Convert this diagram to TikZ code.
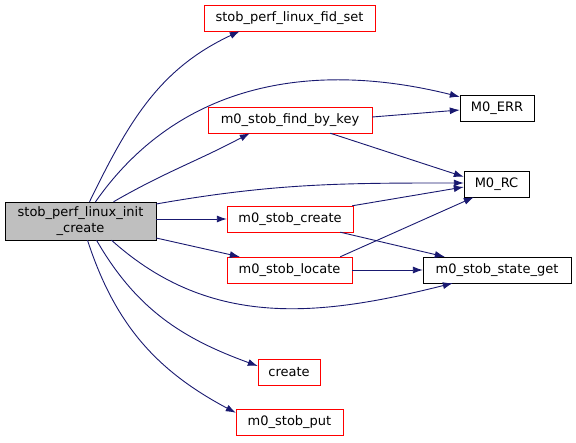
\documentclass[tikz,border=0pt]{standalone}
\usepackage{fontspec}
\setmainfont{DejaVu Sans}
\usetikzlibrary{arrows.meta}
\definecolor{CGNavy}{HTML}{191970}
\definecolor{CGRed}{HTML}{FF0000}
\definecolor{CGGray}{HTML}{BFBFBF}
\tikzset{
  >={Latex[length=10pt,width=7pt]},
  cgbox/.style={draw=black, fill=white, align=center, minimum height=26pt,
    inner sep=2pt, font=\fontsize{13}{15.5}\selectfont},
  cgred/.style={cgbox, draw=CGRed},
  cgmain/.style={cgbox, fill=CGGray, minimum height=38pt},
  cgarrow/.style={->, draw=CGNavy, line width=0.9pt}
}
\begin{document}
\begin{tikzpicture}[x=1pt, y=-1pt]
  \useasboundingbox (0,0) rectangle (576,443);
  % callee boxes
  \node[cgmain, minimum width=151pt] (main) at (80.5,221) {stob\_perf\_linux\_init\\\_create};
  \node[cgred, minimum width=171pt] (fidset) at (289.5,18) {stob\_perf\_linux\_fid\_set};
  \node[cgred, minimum width=164pt] (findkey) at (290,120) {m0\_stob\_find\_by\_key};
  \node[cgred, minimum width=126pt] (screate) at (290,219) {m0\_stob\_create};
  \node[cgred, minimum width=125pt] (slocate) at (289.5,270) {m0\_stob\_locate};
  \node[cgred, minimum width=62pt] (create) at (289,372) {create};
  \node[cgred, minimum width=107pt] (sput) at (289.5,422) {m0\_stob\_put};
  \node[cgbox, minimum width=74pt] (merr) at (497,108) {M0\_ERR};
  \node[cgbox, minimum width=65pt] (mrc) at (496.5,184) {M0\_RC};
  \node[cgbox, minimum width=148pt] (sstate) at (497,270) {m0\_stob\_state\_get};

  % calls from the main function
  \draw[cgarrow] ([xshift=9pt]main.north) to[out=64, in=205] ([xshift=36pt]fidset.south west);
  \draw[cgarrow] ([xshift=15pt]main.north) to[out=55, in=166] ([yshift=-2pt]merr.north west);
  \draw[cgarrow] ([xshift=33pt]main.north) to[out=30, in=208] ([xshift=42pt]findkey.south west);
  \draw[cgarrow] ([yshift=17pt]main.east) to[out=10, in=180] ([yshift=1pt]mrc.west);
  \draw[cgarrow] ([yshift=2pt]main.east) -- (screate.west);
  \draw[cgarrow] ([yshift=-17pt]main.east) -- ([xshift=13pt]slocate.north west);
  \draw[cgarrow] ([xshift=31pt]main.south) to[out=-42, in=194] ([xshift=30pt]sstate.south west);
  \draw[cgarrow] ([xshift=16pt]main.south) to[out=-60, in=160] ([yshift=6pt]create.west);
  \draw[cgarrow] ([xshift=7pt]main.south) to[out=-72, in=152] ([yshift=-4pt]sput.north west);

  % calls between callees
  \draw[cgarrow] ([yshift=3pt]findkey.east) -- ([yshift=-2pt]merr.west);
  \draw[cgarrow] ([xshift=-42pt]findkey.south east) -- ([yshift=-6pt]mrc.north west);
  \draw[cgarrow] ([xshift=-1pt]screate.north east) -- ([yshift=-3pt]mrc.west);
  \draw[cgarrow] ([xshift=-13pt]screate.south east) -- ([xshift=22pt]sstate.north west);
  \draw[cgarrow] ([xshift=-12pt]slocate.north east) -- ([xshift=10pt]mrc.south west);
  \draw[cgarrow] (slocate.east) -- (sstate.west);
\end{tikzpicture}
\end{document}
